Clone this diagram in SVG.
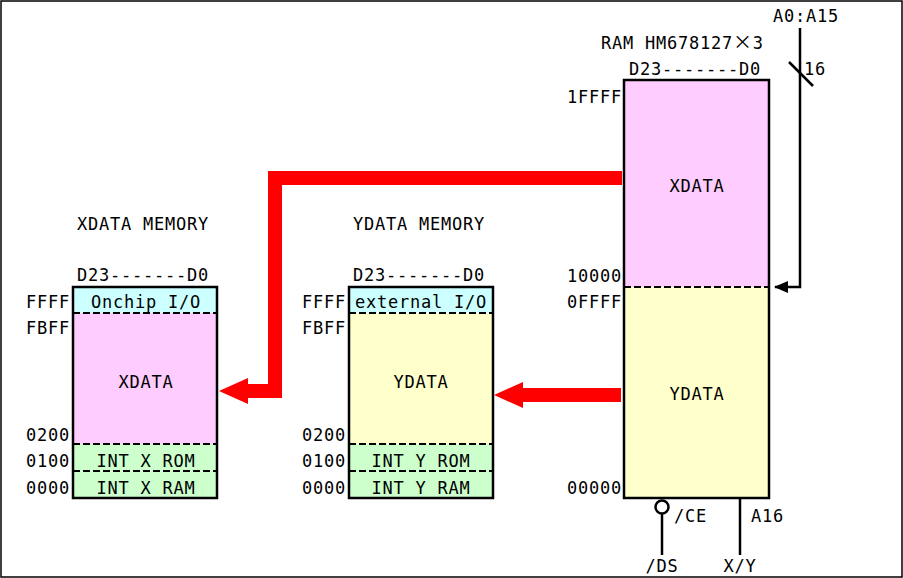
<svg xmlns="http://www.w3.org/2000/svg" width="903" height="578" viewBox="0 0 903 578">
<defs>
<style>
text{font-family:"DejaVu Sans Mono","Liberation Mono",monospace;font-size:17px;letter-spacing:0.77px;fill:#000}
.m{text-anchor:middle}
.cjk{font-family:"Noto Sans CJK JP",sans-serif;font-size:19px}
.box{stroke:#000;stroke-width:2.5;fill:none}
.dash{stroke:#000;stroke-width:2;stroke-dasharray:7 3;fill:none}
.ln{stroke:#000;stroke-width:2.5;fill:none}
.red{stroke:#ff0000;stroke-width:14;fill:none}
</style>
<marker id="bh" markerWidth="14" markerHeight="12" refX="13" refY="6" orient="auto" markerUnits="userSpaceOnUse" viewBox="0 0 14 12">
<path d="M0,0 L14,6 L0,12 Z" fill="#000"/>
</marker>
</defs>
<rect x="1" y="1" width="901" height="576" fill="#fff" stroke="#000" stroke-width="1.5"/>

<g id="xmem">
<text x="77" y="230">XDATA MEMORY</text>
<text x="77" y="281">D23-------D0</text>
<rect x="73" y="287" width="144" height="26" fill="#ccffff"/>
<rect x="73" y="313" width="144" height="131" fill="#ffccff"/>
<rect x="73" y="444" width="144" height="54" fill="#ccffcc"/>
<line class="dash" x1="73" y1="313" x2="217" y2="313"/>
<line class="dash" x1="73" y1="444" x2="217" y2="444"/>
<line class="dash" x1="73" y1="471" x2="217" y2="471"/>
<rect class="box" x="73" y="287" width="144" height="211"/>
<text class="m" x="146" y="308">Onchip I/O</text>
<text class="m" x="146" y="388">XDATA</text>
<text class="m" x="146" y="467">INT X ROM</text>
<text class="m" x="146" y="494">INT X RAM</text>
<text x="26" y="308">FFFF</text>
<text x="26" y="334">FBFF</text>
<text x="26" y="441">0200</text>
<text x="26" y="467">0100</text>
<text x="26" y="494">0000</text>
</g>

<g id="ymem">
<text x="353" y="230">YDATA MEMORY</text>
<text x="353" y="281">D23-------D0</text>
<rect x="349" y="287" width="144" height="26" fill="#ccffff"/>
<rect x="349" y="313" width="144" height="131" fill="#ffffcc"/>
<rect x="349" y="444" width="144" height="54" fill="#ccffcc"/>
<line class="dash" x1="349" y1="313" x2="493" y2="313"/>
<line class="dash" x1="349" y1="444" x2="493" y2="444"/>
<line class="dash" x1="349" y1="471" x2="493" y2="471"/>
<rect class="box" x="349" y="287" width="144" height="211"/>
<text class="m" x="421" y="308">external I/O</text>
<text class="m" x="421" y="388">YDATA</text>
<text class="m" x="421" y="467">INT Y ROM</text>
<text class="m" x="421" y="494">INT Y RAM</text>
<text x="302" y="308">FFFF</text>
<text x="302" y="334">FBFF</text>
<text x="302" y="441">0200</text>
<text x="302" y="467">0100</text>
<text x="302" y="494">0000</text>
</g>

<g id="ram">
<text x="601" y="49">RAM HM678127<tspan class="cjk">×</tspan>3</text>
<text x="629" y="75">D23-------D0</text>
<rect x="624" y="80" width="145" height="207" fill="#ffccff"/>
<rect x="624" y="287" width="145" height="211" fill="#ffffcc"/>
<line class="dash" x1="624" y1="287" x2="769" y2="287"/>
<rect class="box" x="624" y="80" width="145" height="418"/>
<text class="m" x="697" y="192">XDATA</text>
<text class="m" x="697" y="400">YDATA</text>
<text x="567" y="103">1FFFF</text>
<text x="567" y="282">10000</text>
<text x="567" y="308">0FFFF</text>
<text x="567" y="494">00000</text>
</g>

<g id="signals">
<text x="773" y="22">A0:A15</text>
<text x="804" y="75">16</text>
<text x="674" y="522">/CE</text>
<text x="751" y="522">A16</text>
<text class="m" x="662" y="572">/DS</text>
<text class="m" x="740" y="572">X/Y</text>
</g>

<g id="connectors">
<path class="ln" d="M800,28 V287 H775" stroke-width="3" marker-end="url(#bh)"/>
<line class="ln" x1="789" y1="62" x2="813" y2="86" stroke-width="2"/>
<circle cx="662" cy="507" r="6.5" fill="#fff" stroke="#000" stroke-width="2.5"/>
<line class="ln" x1="662" y1="513.5" x2="662" y2="555"/>
<line class="ln" x1="740" y1="498" x2="740" y2="555"/>
<path class="red" d="M622,178 H275 V391 H245"/>
<polygon points="219,391 248,378 248,404" fill="#ff0000"/>
<path class="red" d="M621,395 H520"/>
<polygon points="494,395 523,382 523,408" fill="#ff0000"/>
</g>
</svg>
